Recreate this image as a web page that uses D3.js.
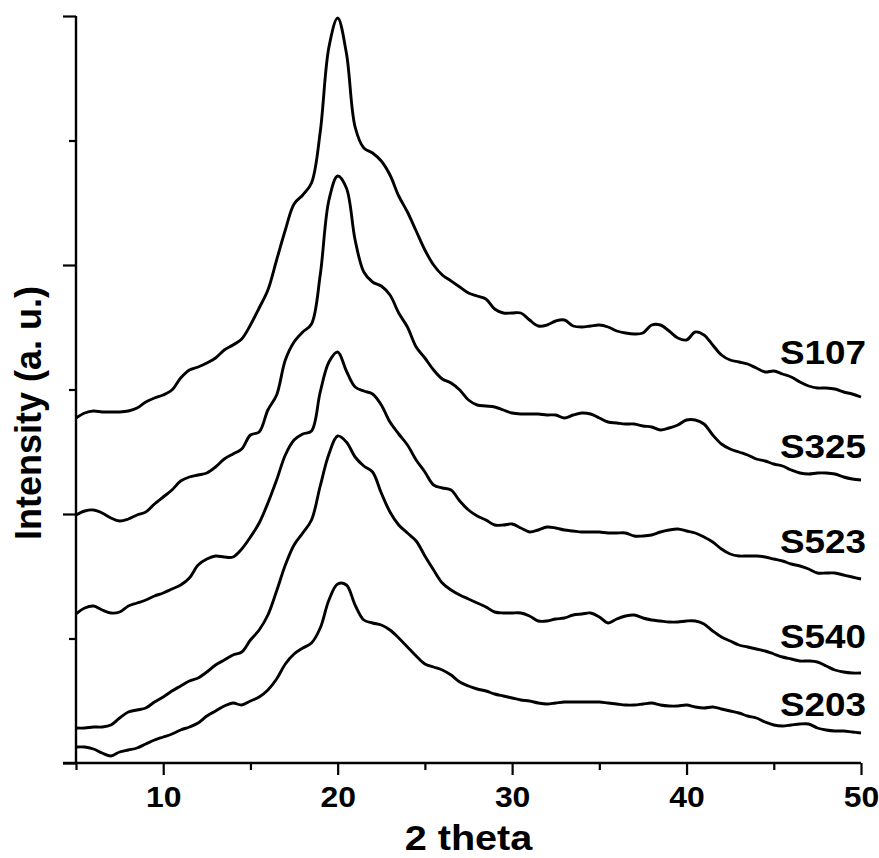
<!DOCTYPE html>
<html>
<head>
<meta charset="utf-8">
<script src="https://cdn.jsdelivr.net/npm/d3@7"></script>
<style>
  body { margin: 0; background: #fff; }
  svg { display: block; }
  text { font-family: "Liberation Sans", Arial, sans-serif; font-weight: bold; fill: #000; }
</style>
</head>
<body>
<div id="chart"></div>
<script>
// 2 theta sampling (deg)
var theta = [5, 5.5, 6, 6.5, 7, 7.5, 8, 8.5, 9, 9.5,
    10, 10.5, 11, 11.5, 12, 12.5, 13, 13.5, 14, 14.5,
    15, 15.5, 16, 16.5, 17, 17.5, 18, 18.5, 19, 19.5,
    20, 20.5, 21, 21.5, 22, 22.5, 23, 23.5, 24, 24.5,
    25, 25.5, 26, 26.5, 27, 27.5, 28, 28.5, 29, 29.5,
    30, 30.5, 31, 31.5, 32, 32.5, 33, 33.5, 34, 34.5,
    35, 35.5, 36, 36.5, 37, 37.5, 38, 38.5, 39, 39.5,
    40, 40.5, 41, 41.5, 42, 42.5, 43, 43.5, 44, 44.5,
    45, 45.5, 46, 46.5, 47, 47.5, 48, 48.5, 49, 49.5, 50];

// intensities (a. u., curves already stacked)
var s107 = [345, 350, 352, 351, 351, 351, 352, 355, 361, 365,
    368, 373, 385, 393, 396, 400, 405, 413, 418, 424,
    438, 455, 473, 503, 533, 559, 568, 580, 631, 716,
    745, 710, 636, 615, 610, 602, 588, 567, 551, 532,
    513, 498, 488, 482, 476, 470, 467, 464, 454, 450,
    450, 450, 443, 437, 438, 442, 443, 437, 436, 437,
    438, 436, 432, 430, 429, 430, 438, 438, 432, 425,
    423, 431, 428, 418, 408, 403, 401, 399, 395, 391,
    392, 389, 386, 381, 377, 375, 375, 374, 371, 369, 366];

var s325 = [248, 252, 253, 250, 245, 242, 244, 248, 251, 259,
    266, 273, 282, 286, 288, 290, 296, 304, 309, 314,
    328, 331, 353, 368, 403, 421, 431, 439, 488, 563,
    587, 575, 523, 491, 481, 477, 468, 450, 436, 416,
    405, 393, 384, 380, 373, 363, 358, 357, 356, 353,
    350, 349, 349, 349, 348, 348, 345, 348, 350, 349,
    345, 341, 340, 339, 339, 337, 336, 333, 335, 338,
    343, 343, 339, 328, 319, 314, 311, 308, 304, 302,
    299, 297, 293, 290, 289, 290, 290, 289, 286, 284, 283];

var s523 = [149, 155, 157, 153, 150, 151, 157, 160, 163, 167,
    170, 174, 178, 185, 198, 204, 207, 206, 206, 214,
    226, 240, 260, 283, 308, 323, 329, 332, 371, 401,
    411, 392, 376, 372, 369, 358, 341, 329, 318, 303,
    291, 278, 275, 273, 262, 253, 247, 243, 238, 238,
    239, 235, 231, 233, 236, 235, 233, 232, 231, 231,
    231, 230, 230, 230, 227, 227, 228, 231, 233, 234,
    232, 230, 226, 221, 214, 209, 207, 207, 207, 206,
    204, 202, 199, 197, 194, 190, 190, 190, 188, 186, 184];

var s540 = [35, 35, 36, 36, 38, 45, 51, 53, 55, 61,
    66, 72, 77, 82, 85, 91, 98, 103, 108, 111,
    123, 133, 148, 172, 198, 218, 230, 243, 277, 309,
    327, 321, 306, 297, 291, 270, 251, 238, 230, 222,
    207, 193, 180, 173, 168, 164, 160, 156, 151, 150,
    150, 150, 147, 142, 142, 144, 145, 148, 149, 150,
    146, 140, 144, 147, 148, 145, 143, 142, 141, 141,
    142, 142, 139, 132, 126, 122, 118, 116, 114, 112,
    109, 106, 104, 102, 102, 101, 97, 93, 91, 90, 90];

var s203 = [16, 16, 14, 10, 7, 11, 13, 15, 19, 23,
    26, 29, 33, 36, 40, 47, 52, 57, 60, 58,
    62, 66, 73, 84, 99, 109, 115, 120, 135, 163,
    179, 178, 158, 143, 140, 138, 133, 125, 116, 107,
    99, 96, 93, 88, 81, 77, 74, 72, 69, 67,
    65, 63, 62, 60, 59, 60, 61, 61, 61, 61,
    61, 60, 59, 58, 58, 59, 60, 58, 57, 57,
    58, 56, 55, 56, 54, 52, 50, 47, 45, 41,
    38, 37, 38, 39, 39, 35, 33, 32, 32, 31, 30];

var sampleNames = ["S107", "S325", "S523", "S540", "S203"];
var sampleData = [s107, s325, s523, s540, s203];
// where each name sits (a. u.)
var labelAt = [399, 305, 210, 115, 47];

var xMajor = [10, 20, 30, 40, 50];
var xMinor = [5, 15, 25, 35, 45];
var yMajor = [0, 249, 498, 747];
var yMinor = [124.5, 373.5, 622.5];

var xTitle = "2 theta";
var yTitle = "Intensity (a. u.)";

var W = 879, H = 858;

var svg = d3.select("#chart").append("svg")
    .attr("width", W)
    .attr("height", H);

var x = d3.scaleLinear().domain([5, 50]).range([76, 861]);
var y = d3.scaleLinear().domain([0, 747]).range([763, 16]);

// horizontal stretch of the original lettering
var stretch = 1.1;

// x axis - minor then major ticks
svg.append("g")
    .attr("transform", "translate(0," + y(0) + ")")
    .call(d3.axisBottom(x).tickValues(xMinor).tickSize(7).tickFormat(""))
    .call(function(g) { g.select(".domain").remove(); });

var xAx = svg.append("g")
    .attr("transform", "translate(0," + y(0) + ")")
    .call(d3.axisBottom(x).tickValues(xMajor).tickSize(12).tickFormat(d3.format("d")))
    .call(function(g) { g.select(".domain").remove(); });

xAx.selectAll("text")
    .attr("y", 44)
    .attr("dy", 0)
    .attr("transform", "scale(" + stretch + ",1)")
    .style("font-size", "29px")
    .style("font-family", "'Liberation Sans', Arial, sans-serif")
    .style("font-weight", "bold");

// y axis - no labels
svg.append("g")
    .attr("transform", "translate(" + x(5) + ",0)")
    .call(d3.axisLeft(y).tickValues(yMinor).tickSize(7).tickFormat(""))
    .call(function(g) { g.select(".domain").remove(); });

svg.append("g")
    .attr("transform", "translate(" + x(5) + ",0)")
    .call(d3.axisLeft(y).tickValues(yMajor).tickSize(13).tickFormat(""))
    .call(function(g) { g.select(".domain").remove(); });

svg.selectAll(".tick line")
    .attr("stroke", "#000")
    .attr("stroke-width", 2.2);

// axis lines
svg.append("line")
    .attr("x1", x(5) - 13).attr("x2", x(50))
    .attr("y1", y(0)).attr("y2", y(0))
    .attr("stroke", "#000").attr("stroke-width", 2.4);

svg.append("line")
    .attr("x1", x(5)).attr("x2", x(5))
    .attr("y1", y(0)).attr("y2", y(747))
    .attr("stroke", "#000").attr("stroke-width", 2.4);

// patterns
var line = d3.line()
    .x(function(d) { return x(d[0]); })
    .y(function(d) { return y(d[1]); })
    .curve(d3.curveCatmullRom.alpha(0.5));

sampleData.forEach(function(vals, i) {
    var pts = theta.map(function(t, j) { return [t, vals[j]]; });
    svg.append("path")
        .datum(pts)
        .attr("d", line)
        .attr("fill", "none")
        .attr("stroke", "#000")
        .attr("stroke-width", 2.9)
        .attr("stroke-linejoin", "round");

    svg.append("text")
        .attr("transform", "translate(866," + y(labelAt[i]) + ") scale(" + stretch + ",1)")
        .attr("text-anchor", "end")
        .style("font-size", "33.5px")
        .text(sampleNames[i]);
});

// titles
svg.append("text")
    .attr("transform", "translate(" + ((x(5) + x(50)) / 2) + ",850) scale(" + stretch + ",1)")
    .attr("text-anchor", "middle")
    .style("font-size", "36px")
    .text(xTitle);

svg.append("text")
    .attr("transform", "translate(41,413) rotate(-90)")
    .attr("text-anchor", "middle")
    .style("font-size", "36px")
    .text(yTitle);
</script>
</body>
</html>
